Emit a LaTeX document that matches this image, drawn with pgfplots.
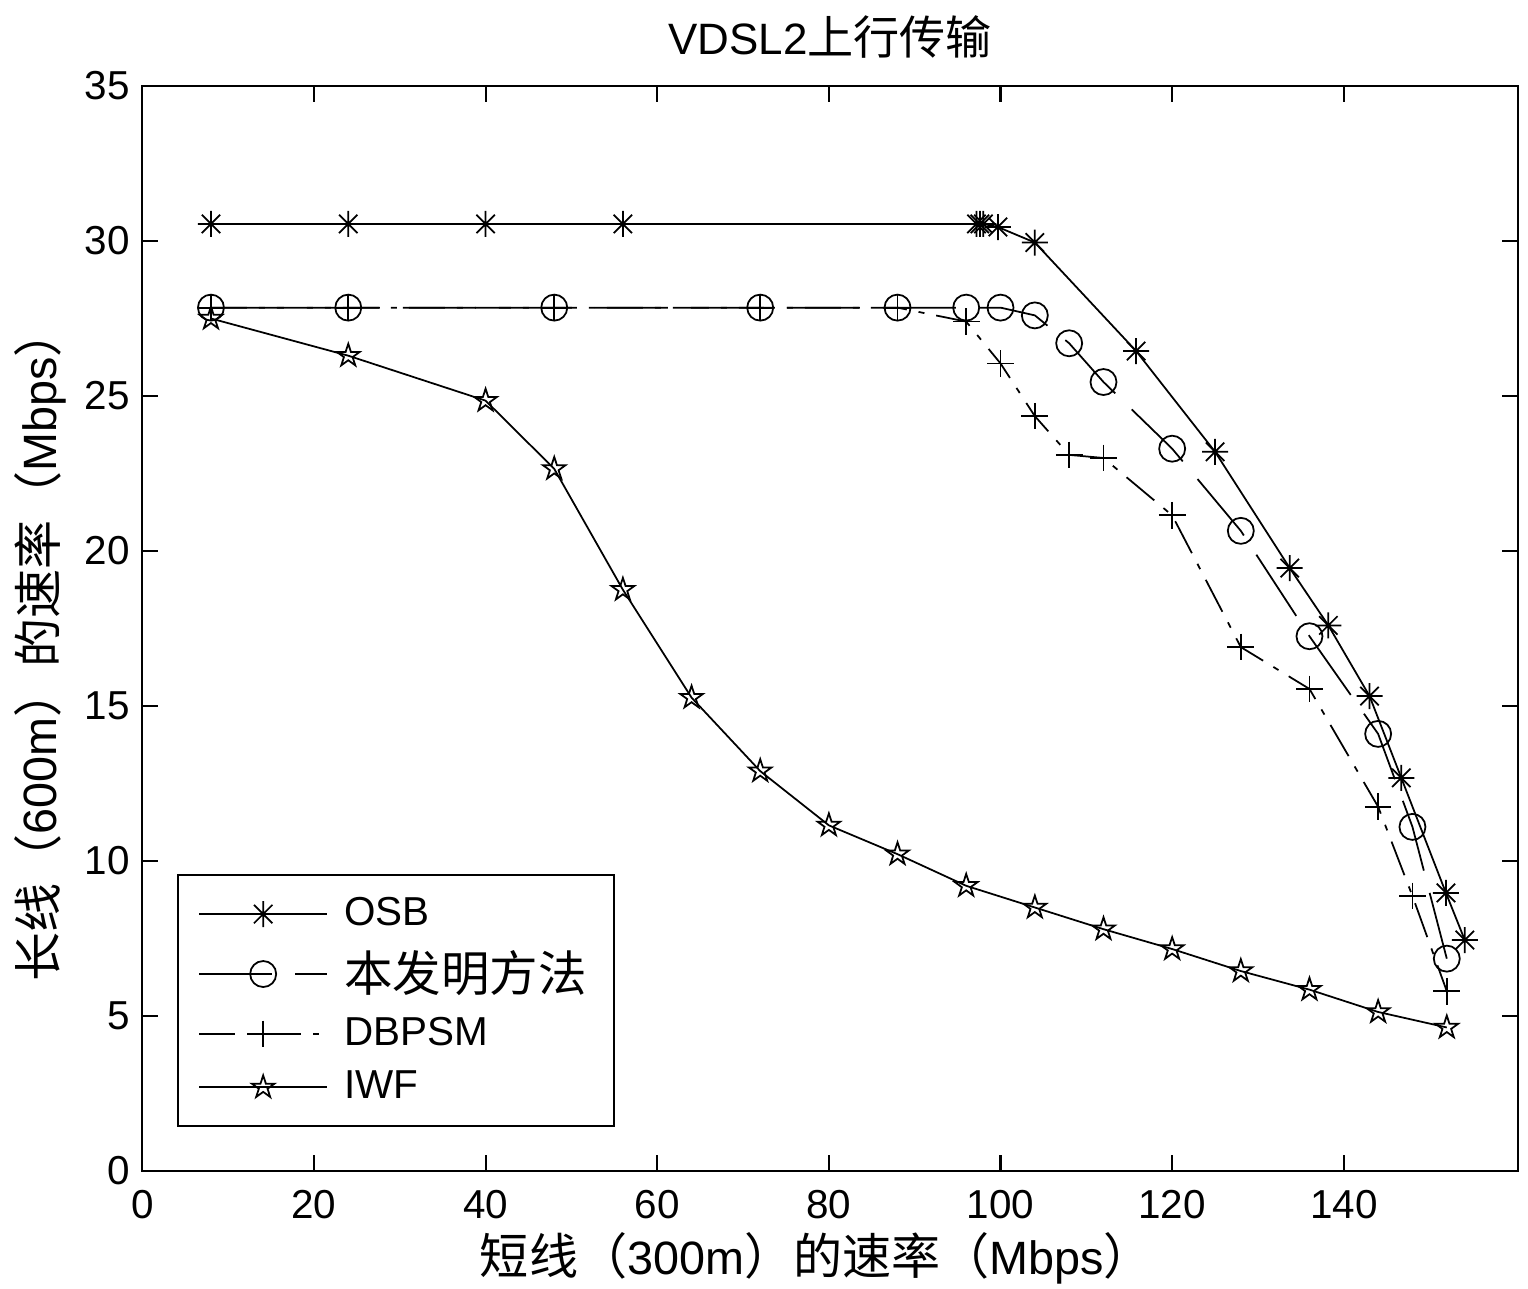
\documentclass[border=0pt]{standalone}
\usepackage{fontspec}
\setmainfont{Liberation Sans}
\newfontfamily\cjk[Scale=1.05]{Noto Sans CJK SC}
\newfontfamily\cjkL[Scale=1.2]{Noto Sans CJK SC}
\usepackage{pgfplots}
\pgfplotsset{compat=1.18}

\pgfdeclareplotmark{ast8}{%
  \pgfpathmoveto{\pgfqpoint{-\pgfplotmarksize}{0pt}}\pgfpathlineto{\pgfqpoint{\pgfplotmarksize}{0pt}}%
  \pgfpathmoveto{\pgfqpoint{0pt}{-\pgfplotmarksize}}\pgfpathlineto{\pgfqpoint{0pt}{\pgfplotmarksize}}%
  \pgfpathmoveto{\pgfqpoint{-0.707\pgfplotmarksize}{-0.707\pgfplotmarksize}}\pgfpathlineto{\pgfqpoint{0.707\pgfplotmarksize}{0.707\pgfplotmarksize}}%
  \pgfpathmoveto{\pgfqpoint{-0.707\pgfplotmarksize}{0.707\pgfplotmarksize}}\pgfpathlineto{\pgfqpoint{0.707\pgfplotmarksize}{-0.707\pgfplotmarksize}}%
  \pgfusepathqstroke}
\pgfdeclareplotmark{pent}{%
  \pgfpathmoveto{\pgfpointpolar{90}{\pgfplotmarksize}}%
  \pgfpathlineto{\pgfpointpolar{126}{0.382\pgfplotmarksize}}%
  \pgfpathlineto{\pgfpointpolar{162}{\pgfplotmarksize}}%
  \pgfpathlineto{\pgfpointpolar{198}{0.382\pgfplotmarksize}}%
  \pgfpathlineto{\pgfpointpolar{234}{\pgfplotmarksize}}%
  \pgfpathlineto{\pgfpointpolar{270}{0.382\pgfplotmarksize}}%
  \pgfpathlineto{\pgfpointpolar{306}{\pgfplotmarksize}}%
  \pgfpathlineto{\pgfpointpolar{342}{0.382\pgfplotmarksize}}%
  \pgfpathlineto{\pgfpointpolar{18}{\pgfplotmarksize}}%
  \pgfpathlineto{\pgfpointpolar{54}{0.382\pgfplotmarksize}}%
  \pgfpathclose\pgfusepathqstroke}

\begin{document}
\begin{tikzpicture}
\begin{axis}[
  name=ax,
  scale only axis, width=137.57mm, height=108.5mm,
  xmin=0, xmax=160.3, ymin=0, ymax=35,
  xtick={0,20,...,140}, ytick={0,5,...,35},
  tick align=inside, major tick length=1.6mm,
  axis line style={line width=0.6pt},
  tick style={line width=0.6pt, black},
  /pgf/number format/assume math mode=true,
  every tick label/.append style={font=\fontsize{11.5}{13}\selectfont},
  xticklabel style={yshift=-0.7mm},
  title={VDSL2{\cjk 上行传输}},
  title style={at={(axis description cs:0.5,1.026)}, anchor=center, font=\fontsize{12.5}{14}\selectfont},
  xlabel={{\cjk 短线（}300m{\cjk ）的速率（}Mbps{\cjk ）}},
  xlabel style={at={(axis description cs:0.49,-0.0802)}, anchor=center, font=\fontsize{13.3}{15}\selectfont},
  ylabel={{\cjk 长线（}600m{\cjk ）的速率（}Mbps{\cjk ）}},
  ylabel style={at={(axis description cs:-0.0741,0.485)}, anchor=center, font=\fontsize{13.3}{15}\selectfont},
  legend style={at={(axis description cs:0.0254,0.0406)}, anchor=south west, draw=black, line width=0.6pt,
    font=\fontsize{11.5}{13}\selectfont, row sep=0.6mm, column sep=0.9mm, inner xsep=2mm, inner ysep=1.5mm},
  legend cell align=left,
  legend image code/.code={\draw[mark repeat=2,mark phase=2,#1] plot coordinates {(0mm,0mm) (6.4mm,0mm) (12.8mm,0mm)};},
]
\addplot[black, line width=0.5pt, mark=ast8, mark size=3.7pt, mark options={solid}] coordinates {
(8,30.55) (24,30.55) (40,30.55) (56,30.55) (97.2,30.55) (97.6,30.55) (98.0,30.55) (99.7,30.45) (104,29.95) (115.8,26.45) (125,23.2) (133.7,19.45) (138.2,17.6) (143,15.32) (146.7,12.68) (151.9,8.97) (154.1,7.45)
};
\addlegendentry{OSB}
\addplot[black, line width=0.5pt, dash pattern=on 7.3mm off 2.3mm, mark=o, mark size=3.7pt, mark options={solid}] coordinates {
(8,27.85) (24,27.85) (48,27.85) (72,27.85) (88,27.85) (96,27.85) (100,27.85) (104,27.6) (108,26.7) (112,25.45) (120,23.3) (128,20.65) (136,17.25) (144,14.1) (148,11.1) (152,6.85)
};
\addlegendentry{{\cjkL 本发明方法}}
\addplot[black, line width=0.5pt, dash pattern=on 3.6mm off 1.2mm on 0.6mm off 1.2mm, mark=+, mark size=3.8pt, mark options={solid}] coordinates {
(8,27.85) (24,27.85) (48,27.85) (72,27.85) (88,27.85) (96,27.4) (100,26.05) (104,24.35) (108,23.1) (112,23.0) (120,21.15) (128,16.9) (136,15.55) (144,11.75) (148,8.87) (152,5.8)
};
\addlegendentry{DBPSM}
\addplot[black, line width=0.5pt, mark=pent, mark size=3.4pt, mark options={solid}] coordinates {
(8,27.5) (24,26.3) (40,24.85) (48,22.65) (56,18.75) (64,15.27) (72,12.9) (80,11.15) (88,10.22) (96,9.2) (104,8.5) (112,7.8) (120,7.16) (128,6.45) (136,5.85) (144,5.13) (152,4.63)
};
\addlegendentry{IWF}
\end{axis}
\pgfresetboundingbox
\path[use as bounding box] ([shift={(-14.23mm,-11.7mm)}]ax.south west) rectangle ([shift={(1.0mm,8.6mm)}]ax.north east);
\end{tikzpicture}
\end{document}
